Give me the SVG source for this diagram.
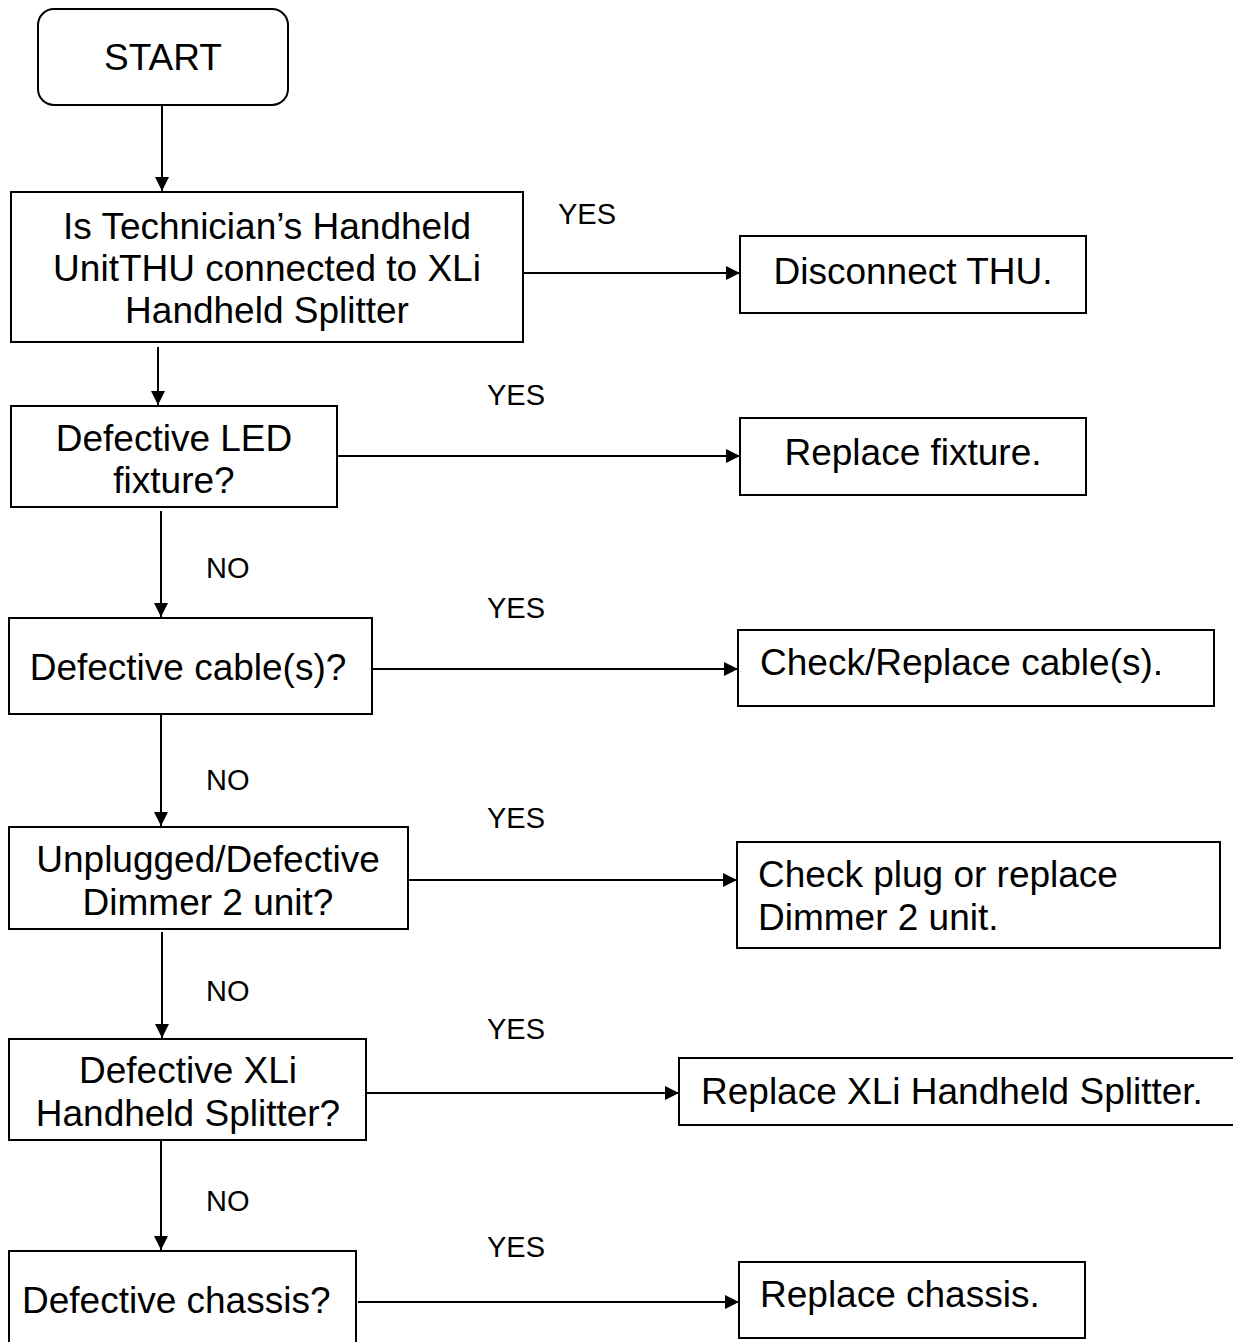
<svg xmlns="http://www.w3.org/2000/svg" width="1233" height="1342" viewBox="0 0 1233 1342">
<style>
.box{fill:#fff;stroke:#000;stroke-width:2}
.t{font-family:"Liberation Sans",Arial,sans-serif;font-size:37px;fill:#000}
.c{text-anchor:middle}
.lbl{font-family:"Liberation Sans",Arial,sans-serif;font-size:29px;fill:#000}
.ln{stroke:#000;stroke-width:2;fill:none}
</style>
<defs>
<marker id="arr" viewBox="0 0 14 14" refX="14" refY="7" markerWidth="14" markerHeight="14" markerUnits="userSpaceOnUse" orient="auto">
<path d="M0,0 L14,7 L0,14 z" fill="#000"/>
</marker>
</defs>
<rect width="1233" height="1342" fill="#fff"/>
<g id="connectors">
<line class="ln" x1="162" y1="105" x2="162" y2="191" marker-end="url(#arr)"/>
<line class="ln" x1="158" y1="347" x2="158" y2="405" marker-end="url(#arr)"/>
<line class="ln" x1="161" y1="511" x2="161" y2="617" marker-end="url(#arr)"/>
<line class="ln" x1="161" y1="714" x2="161" y2="826" marker-end="url(#arr)"/>
<line class="ln" x1="162" y1="932" x2="162" y2="1038" marker-end="url(#arr)"/>
<line class="ln" x1="161" y1="1141" x2="161" y2="1250" marker-end="url(#arr)"/>
<line class="ln" x1="521" y1="273" x2="740" y2="273" marker-end="url(#arr)"/>
<line class="ln" x1="337" y1="456" x2="740" y2="456" marker-end="url(#arr)"/>
<line class="ln" x1="372" y1="669" x2="738" y2="669" marker-end="url(#arr)"/>
<line class="ln" x1="408" y1="880" x2="737" y2="880" marker-end="url(#arr)"/>
<line class="ln" x1="366" y1="1093" x2="679" y2="1093" marker-end="url(#arr)"/>
<line class="ln" x1="358" y1="1302" x2="739" y2="1302" marker-end="url(#arr)"/>
<text class="lbl" x="558" y="224">YES</text>
<text class="lbl" x="487" y="405">YES</text>
<text class="lbl" x="487" y="618">YES</text>
<text class="lbl" x="487" y="828">YES</text>
<text class="lbl" x="487" y="1039">YES</text>
<text class="lbl" x="487" y="1257">YES</text>
<text class="lbl" x="206" y="578">NO</text>
<text class="lbl" x="206" y="790">NO</text>
<text class="lbl" x="206" y="1001">NO</text>
<text class="lbl" x="206" y="1211">NO</text>
</g>
<g id="start">
<rect class="box" x="38" y="9" width="250" height="96" rx="16"/>
<text class="t c" x="163" y="70">START</text>
</g>
<g id="q1">
<rect class="box" x="11" y="192" width="512" height="150"/>
<text class="t c" x="267" y="239">Is Technician’s Handheld</text>
<text class="t c" x="267" y="281">UnitTHU connected to XLi</text>
<text class="t c" x="267" y="323">Handheld Splitter</text>
</g>
<g id="a1">
<rect class="box" x="740" y="236" width="346" height="77"/>
<text class="t c" x="913" y="284">Disconnect THU.</text>
</g>
<g id="q2">
<rect class="box" x="11" y="406" width="326" height="101"/>
<text class="t c" x="174" y="451">Defective LED</text>
<text class="t c" x="174" y="493">fixture?</text>
</g>
<g id="a2">
<rect class="box" x="740" y="418" width="346" height="77"/>
<text class="t c" x="913" y="465">Replace fixture.</text>
</g>
<g id="q3">
<rect class="box" x="9" y="618" width="363" height="96"/>
<text class="t c" x="188" y="680">Defective cable(s)?</text>
</g>
<g id="a3">
<rect class="box" x="738" y="630" width="476" height="76"/>
<text class="t" x="760" y="675">Check/Replace cable(s).</text>
</g>
<g id="q4">
<rect class="box" x="9" y="827" width="399" height="102"/>
<text class="t c" x="208" y="872">Unplugged/Defective</text>
<text class="t c" x="208" y="915">Dimmer 2 unit?</text>
</g>
<g id="a4">
<rect class="box" x="737" y="842" width="483" height="106"/>
<text class="t" x="758" y="887">Check plug or replace</text>
<text class="t" x="758" y="930">Dimmer 2 unit.</text>
</g>
<g id="q5">
<rect class="box" x="9" y="1039" width="357" height="101"/>
<text class="t c" x="188" y="1083">Defective XLi</text>
<text class="t c" x="188" y="1126">Handheld Splitter?</text>
</g>
<g id="a5">
<rect class="box" x="679" y="1058" width="600" height="67"/>
<text class="t" x="701" y="1104">Replace XLi Handheld Splitter.</text>
</g>
<g id="q6">
<rect class="box" x="9" y="1251" width="347" height="120"/>
<text class="t" x="22" y="1313">Defective chassis?</text>
</g>
<g id="a6">
<rect class="box" x="739" y="1262" width="346" height="76"/>
<text class="t" x="760" y="1307">Replace chassis.</text>
</g>
</svg>
